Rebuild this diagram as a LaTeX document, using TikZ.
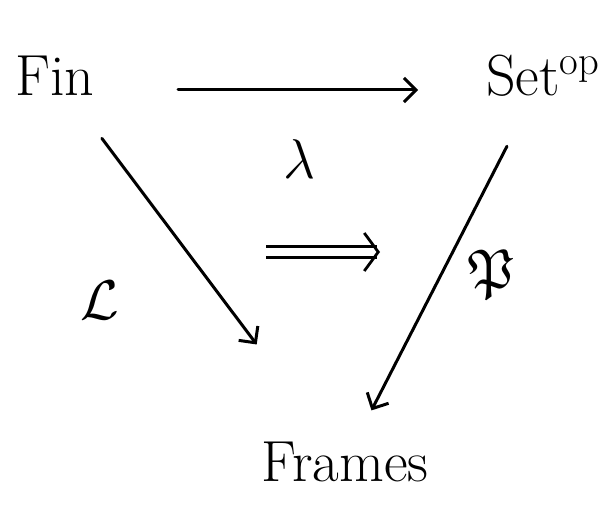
\documentclass[tikz,border=0pt]{standalone}
\usepackage{fix-cm}
\usepackage{amsmath}
\usepackage{amssymb}
\usepackage{fontspec}
\usetikzlibrary{arrows.meta}
\tikzset{
  cd pic/.style={x=1pt, y=1pt},
  cd obj/.style={inner sep=0pt, font=\fontsize{58}{64}\selectfont},
  cd lab/.style={inner sep=0pt, font=\fontsize{56}{62}\selectfont},
  cd arr/.style={line width=3pt, line cap=round, -{Straight Barb[length=12pt, width=24pt, line width=3pt]}},
  cd cell/.style={line width=2.6pt, double distance=8pt, -{Straight Barb[length=14pt, width=38pt, line width=2.8pt]}},
}

\begin{document}
\begin{tikzpicture}[cd pic]
\useasboundingbox (0, 0) rectangle (611, -511);
% ---- objects ----
\node[cd obj] (fin) at (55, -76) {Fin};
\node[cd obj] (set) at (543, -76) {Set$^{\mathrm{op}}$};
\node[cd obj] (frm) at (345, -462) {Frames};
% ---- 1-cells ----
\draw[cd arr, shorten <=123pt, shorten >=125pt] ([yshift=-14pt]fin.center) -- ([yshift=-14pt]set.center)
  node[cd lab, pos=0.5, below=48pt] (lam) {$\lambda$};
\draw[cd arr, shorten <=78pt, shorten >=147pt] (fin.center) -- (frm.center);
\draw[cd arr, shorten <=79pt, shorten >=58pt] (set.center) -- (frm.center);
\node[cd lab] (ell) at (100, -300) {$\mathcal{L}$};
\node[cd lab] (pow) at (492, -274) {$\mathfrak{P}$};
% ---- 2-cell ----
\coordinate (c1) at (266, -252);
\coordinate (c2) at (380, -252);
\draw[cd cell] (c1) -- (c2);
\end{tikzpicture}
\end{document}
